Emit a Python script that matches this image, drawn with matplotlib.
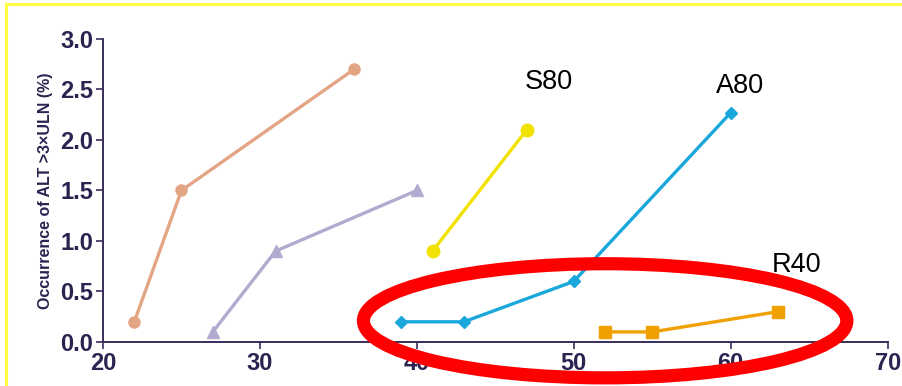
import matplotlib.pyplot as plt
from matplotlib.patches import Ellipse
from matplotlib.lines import Line2D

# series: x (dose-ish axis), y = occurrence of ALT > 3xULN (%)
brown_x = [22, 25, 36]
brown_y = [0.2, 1.5, 2.7]
purple_x = [27, 31, 40]
purple_y = [0.1, 0.9, 1.5]
s80_x = [41, 47]
s80_y = [0.9, 2.1]
a80_x = [39, 43, 50, 60]
a80_y = [0.2, 0.2, 0.6, 2.27]
r40_x = [52, 55, 63]
r40_y = [0.1, 0.1, 0.3]

x_ticks = [20, 30, 40, 50, 60, 70]
y_ticks = [0.0, 0.5, 1.0, 1.5, 2.0, 2.5, 3.0]

axis_col = "#3a2c5c"
tick_font = ["Liberation Sans Narrow", "Liberation Sans", "DejaVu Sans"]

fig = plt.figure(figsize=(9.03, 3.86), dpi=100)
ax = fig.add_axes([0.114, 0.114, 0.869, 0.785])

ax.plot(brown_x, brown_y, color="#e4a584", lw=2.4, marker="o", ms=8)
ax.plot(purple_x, purple_y, color="#b3abcf", lw=2.4, marker="^", ms=8)
ax.plot(s80_x, s80_y, color="#f2e200", lw=2.4, marker="o", ms=9)
ax.plot(a80_x, a80_y, color="#1aa7dc", lw=2.4, marker="D", ms=6)
ax.plot(r40_x, r40_y, color="#f0a000", lw=2.4, marker="s", ms=8)

ax.set_xlim(20, 70)
ax.set_ylim(0, 3.0)
ax.set_xticks(x_ticks)
ax.set_yticks(y_ticks)
ax.set_xticklabels([str(v) for v in x_ticks], family=tick_font,
                   fontweight="bold", fontsize=17, color="#2c2350")
ax.set_yticklabels([f"{v:.1f}" for v in y_ticks], family=tick_font,
                   fontweight="bold", fontsize=17, color="#2c2350")
ax.tick_params(axis="both", direction="out", length=5, width=1.2,
               color=axis_col, pad=2)
for side in ["top", "right"]:
    ax.spines[side].set_visible(False)
for side in ["left", "bottom"]:
    ax.spines[side].set_color(axis_col)
    ax.spines[side].set_linewidth(1.4)

ax.set_ylabel("Occurrence of ALT >3\u00d7ULN (%)", family=tick_font,
              fontweight="bold", fontsize=11.5, color="#2c2350", labelpad=5)

# series labels
lab_font = ["Liberation Sans", "DejaVu Sans"]
ax.text(48.4, 2.5, "S80", fontsize=19.5, family=lab_font, ha="center", va="baseline")
ax.text(60.6, 2.47, "A80", fontsize=19.5, family=lab_font, ha="center", va="baseline")
ax.text(64.2, 0.69, "R40", fontsize=19.5, family=lab_font, ha="center", va="baseline")

# red highlight ellipse round the low-dose points
ell_center = (52.0, 0.21)
ell_w, ell_h = 30.8, 1.13
ax.add_patch(Ellipse(ell_center, ell_w, ell_h, fill=False, ec="#ff0000",
                     lw=9.5, clip_on=False, zorder=5))

# yellow slide border (top and left)
border = "#ffff44"
fig.add_artist(Line2D([0.007, 1.0], [0.989, 0.989], color=border, lw=2.2))
fig.add_artist(Line2D([0.007, 0.007], [0.0, 0.989], color=border, lw=2.2))

fig.savefig("out.png", dpi=100)
